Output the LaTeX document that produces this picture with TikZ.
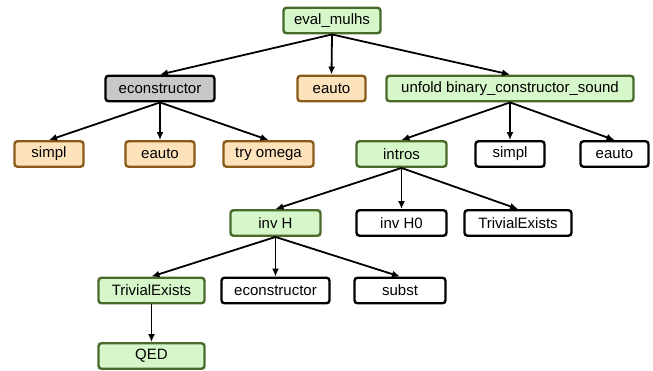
\documentclass[tikz,border=0pt]{standalone}
\usepackage{fontspec}
\setmainfont{Liberation Sans}
\usepackage{tikz}
\usetikzlibrary{arrows.meta}
\definecolor{okfill}{HTML}{D6F7C9}
\definecolor{okdraw}{HTML}{4A6A2C}
\definecolor{failfill}{HTML}{FDE2BC}
\definecolor{faildraw}{HTML}{8A5A18}
\definecolor{stuckfill}{HTML}{C8C8C8}

\begin{document}
\begin{tikzpicture}[x=1pt,y=-1pt]
\tikzstyle{tac}=[rectangle, rounded corners=3pt, line width=2.4pt, minimum height=25.5pt, inner sep=0pt, font=\fontsize{15}{18}\selectfont]
\tikzstyle{ok}=[tac, draw=okdraw, fill=okfill]
\tikzstyle{fail}=[tac, draw=faildraw, fill=failfill]
\tikzstyle{stuck}=[tac, draw=black, fill=stuckfill]
\tikzstyle{open}=[tac, draw=black, fill=white]
\tikzstyle{edge}=[line width=1.8pt, -{Latex[length=8pt,width=7pt]}]

\useasboundingbox (0,0) rectangle (653,371);

\node (t1) at (332,20.5) [ok, minimum width=97pt] {eval\_mulhs};
\node (t2) at (160,88.5) [stuck, minimum width=109pt] {econstructor};
\node (t3) at (331.5,88.5) [fail, minimum width=68pt] {eauto};
\node (t4) at (510,88.5) [ok, minimum width=247pt] {unfold binary\_constructor\_sound};
\node (t5) at (49,154) [fail, minimum width=69pt] {simpl};
\node (t6) at (160,154) [fail, minimum width=69pt] {eauto};
\node (t7) at (268.5,154) [fail, minimum width=90pt] {try omega};
\node (t8) at (401.5,154) [ok, minimum width=90pt] {intros};
\node (t9) at (510,154) [open, minimum width=69pt] {simpl};
\node (t10) at (614.5,154) [open, minimum width=68pt] {eauto};
\node (t11) at (275.5,223) [ok, minimum width=90pt] {inv H};
\node (t12) at (401.5,223) [open, minimum width=90pt] {inv H0};
\node (t13) at (518,223) [open, minimum width=107pt] {TrivialExists};
\node (t14) at (151.5,290.5) [ok, minimum width=106pt] {TrivialExists};
\node (t15) at (275.5,290.5) [open, minimum width=108pt] {econstructor};
\node (t16) at (400,290.5) [open, minimum width=91pt] {subst};
\node (t17) at (151.5,356) [ok, minimum width=106pt] {QED};

\draw[edge] (t1.south) -- (t2.north);
\draw[edge] (t1.south) -- (t3.north);
\draw[edge] (t1.south) -- (t4.north);
\draw[edge] (t2.south) -- (t5.north);
\draw[edge] (t2.south) -- (t6.north);
\draw[edge] (t2.south) -- (t7.north);
\draw[edge] (t4.south) -- (t8.north);
\draw[edge] (t4.south) -- (t9.north);
\draw[edge] (t4.south) -- (t10.north);
\draw[edge] (t8.south) -- (t11.north);
\draw[edge] (t8.south) -- (t12.north);
\draw[edge] (t8.south) -- (t13.north);
\draw[edge] (t11.south) -- (t14.north);
\draw[edge] (t11.south) -- (t15.north);
\draw[edge] (t11.south) -- (t16.north);
\draw[edge] (t14.south) -- (t17.north);
\end{tikzpicture}
\end{document}
